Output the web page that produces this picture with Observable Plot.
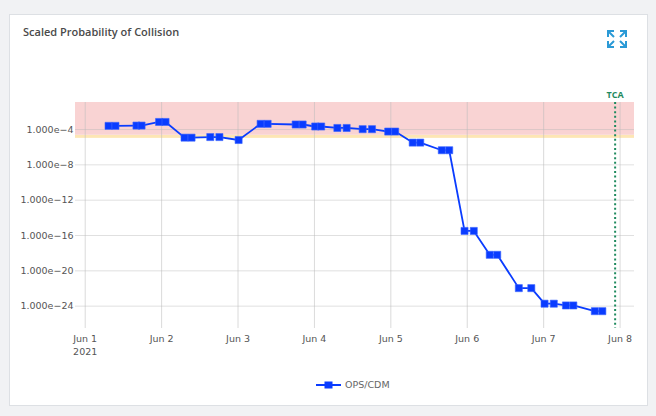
<!DOCTYPE html>
<html>
<head>
<meta charset="utf-8">
<script src="https://cdn.jsdelivr.net/npm/d3@7"></script>
<script src="https://cdn.jsdelivr.net/npm/@observablehq/plot@0.6"></script>
<style>
html,body{margin:0;padding:0;}
body{width:656px;height:416px;background:#f1f2f4;position:relative;overflow:hidden;font-family:"Open Sans",sans-serif;}
#card{position:absolute;left:9px;top:14px;width:639px;height:392px;background:#fff;border:1px solid #dde0e4;box-sizing:border-box;}
#title{position:absolute;left:23px;top:24px;font-size:11px;font-weight:600;color:#4a4a4a;white-space:nowrap;}
#icon{position:absolute;left:606px;top:29px;}
#chart{position:absolute;left:0;top:0;}
#legend{position:absolute;left:0;top:378px;width:656px;height:14px;}
#legend svg{position:absolute;left:316px;top:1px;}
#legend span{position:absolute;left:345px;top:0;font-family:"DejaVu Sans",sans-serif;font-size:9.5px;color:#666;line-height:14px;}
</style>
</head>
<body>
<div id="card"></div>
<div id="title">Scaled Probability of Collision</div>
<svg id="icon" width="22" height="20" viewBox="0 0 22 20" fill="none" stroke="#2b9ad6" stroke-width="2">
  <path d="M2 8V2h6M2 2l6 6"/>
  <path d="M20 8V2h-6M20 2l-6 6"/>
  <path d="M2 12v6h6M2 18l6-6"/>
  <path d="M20 12v6h-6M20 18l-6-6"/>
</svg>
<div id="chart"></div>
<div id="legend">
  <svg width="26" height="12"><line x1="0" y1="6" x2="25" y2="6" stroke="#0a3cff" stroke-width="2"/><rect x="8.5" y="2.5" width="8" height="7" fill="#0a3cff"/></svg>
  <span>OPS/CDM</span>
</div>
<script>
// ---- data ----
const times = [
  "2021-06-01T07:20Z","2021-06-01T09:30Z","2021-06-01T16:06Z","2021-06-01T17:42Z",
  "2021-06-01T23:12Z","2021-06-02T01:14Z","2021-06-02T07:12Z","2021-06-02T09:24Z",
  "2021-06-02T15:17Z","2021-06-02T18:09Z","2021-06-03T00:11Z","2021-06-03T07:06Z",
  "2021-06-03T09:18Z","2021-06-03T18:06Z","2021-06-03T20:18Z","2021-06-04T00:14Z",
  "2021-06-04T02:07Z","2021-06-04T07:12Z","2021-06-04T10:07Z","2021-06-04T15:09Z",
  "2021-06-04T18:05Z","2021-06-04T23:10Z","2021-06-05T01:22Z","2021-06-05T06:52Z",
  "2021-06-05T09:14Z","2021-06-05T16:00Z","2021-06-05T18:20Z","2021-06-05T23:09Z",
  "2021-06-06T02:03Z","2021-06-06T07:04Z","2021-06-06T09:25Z","2021-06-06T16:12Z",
  "2021-06-06T20:07Z","2021-06-07T00:17Z","2021-06-07T03:11Z","2021-06-07T07:00Z",
  "2021-06-07T09:19Z","2021-06-07T16:04Z","2021-06-07T18:26Z"
];
const pc = [
  2.6e-4, 2.6e-4, 2.8e-4, 2.8e-4,
  7.2e-4, 7.2e-4, 1.2e-5, 1.2e-5,
  1.4e-5, 1.4e-5, 6.5e-6, 4.4e-4,
  4.4e-4, 3.7e-4, 3.7e-4, 2.2e-4,
  2.2e-4, 1.5e-4, 1.5e-4, 1.1e-4,
  1.1e-4, 5.9e-5, 5.9e-5, 3.3e-6,
  3.3e-6, 4.5e-7, 4.5e-7, 3.3e-16,
  3.3e-16, 6.5e-19, 6.5e-19, 1.1e-22,
  1.1e-22, 1.9e-24, 1.9e-24, 1.2e-24,
  1.2e-24, 2.7e-25, 2.7e-25
];
const seriesName = "OPS/CDM";
const tcaTime = "2021-06-07T22:27Z";
const xTickDays = ["2021-06-01","2021-06-02","2021-06-03","2021-06-04","2021-06-05","2021-06-06","2021-06-07","2021-06-08"];
const yTickValues = [1e-4, 1e-8, 1e-12, 1e-16, 1e-20, 1e-24];
const bandLow = [1e-5, 2.24e-5];   // yellow band
const bandHigh = [2.24e-5, 1];     // red band
const xDomain = ["2021-05-31T20:57Z", "2021-06-08T04:32Z"];
const yDomain = [Math.pow(10, -26.53), Math.pow(10, -0.94)];

// ---- build ----
const data = times.map((t, i) => ({t: new Date(t), p: pc[i], s: seriesName}));
const xTicks = xTickDays.map(d => new Date(d + "T00:00Z"));
const tca = [new Date(tcaTime)];
const bands = [
  {lo: bandLow[0], hi: bandLow[1], c: "#fde6b4"},
  {lo: bandHigh[0], hi: bandHigh[1], c: "#f9d3d3"}
];
const fmtY = d => "1.000e\u2212" + Math.round(-Math.log10(d));
const fmtX = (d, i) => d3.utcFormat("%b %-d")(d) + (i === 0 ? "\n" + d3.utcFormat("%Y")(d) : "");

const chart = Plot.plot({
  width: 656,
  height: 360,
  marginLeft: 75,
  marginRight: 22,
  marginTop: 102,
  marginBottom: 32,
  style: {fontFamily: "'DejaVu Sans', sans-serif", fontSize: "9.5px", background: "transparent", color: "#555"},
  x: {type: "utc", domain: xDomain.map(d => new Date(d)), label: null},
  y: {type: "log", domain: yDomain, label: null},
  marks: [
    Plot.rect(bands, {y1: "lo", y2: "hi", fill: "c", clip: true}),
    Plot.gridX(xTicks, {stroke: "#bbb", strokeOpacity: 0.55}),
    Plot.gridY(yTickValues, {stroke: "#bbb", strokeOpacity: 0.45}),
    Plot.axisX(xTicks, {tickSize: 0, tickPadding: 5, tickFormat: fmtX, lineHeight: 1.3, fill: "#555", label: null}),
    Plot.axisY(yTickValues, {tickSize: 0, tickPadding: 2, tickFormat: fmtY, fill: "#555", label: null}),
    Plot.ruleX(tca, {stroke: "#1f8a5e", strokeWidth: 2, strokeDasharray: "2,2.6"}),
    Plot.text(tca, {x: d => d, frameAnchor: "top", dy: -11, text: () => "TCA", fill: "#1f8a5e", fontWeight: "bold", fontSize: 9, fontFamily: "'Open Sans', sans-serif"}),
    Plot.line(data, {x: "t", y: "p", stroke: "#0a3cff", strokeWidth: 1.8}),
    Plot.dot(data, {x: "t", y: "p", symbol: "square", r: 4, fill: "#0a3cff", stroke: "#3a64ff", strokeWidth: 0.6})
  ]
});
document.getElementById("chart").appendChild(chart);
</script>
</body>
</html>
